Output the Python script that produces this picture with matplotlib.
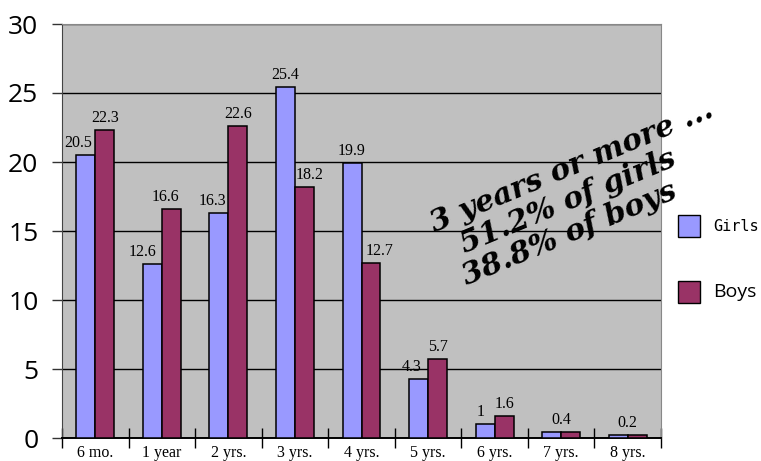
import numpy as np
import matplotlib.pyplot as plt
from matplotlib.patches import Patch

# Percent of children by duration, girls vs boys
categories = ["6 mo.", "1 year", "2 yrs.", "3 yrs.", "4 yrs.", "5 yrs.", "6 yrs.", "7 yrs.", "8 yrs."]
girls = [20.5, 12.6, 16.3, 25.4, 19.9, 4.3, 1.0, 0.4, 0.2]
boys = [22.3, 16.6, 22.6, 18.2, 12.7, 5.7, 1.6, 0.4, 0.2]
note_lines = ["3 years or more ...", "51.2% of girls", "38.8% of boys"]

GIRL_COLOR = "#9999FF"
BOY_COLOR = "#993366"
W, H = 761, 461

# sideways nudges of the value labels (category units) so they don't collide
girl_nudge = [-0.12, -0.15, -0.09, 0, 0, -0.10, -0.07, 0, 0]
boy_nudge = [0, -0.09, 0, 0.08, 0.13, 0, 0, 0, 0]


def fmt(v):
    return f"{v:g}"


fig = plt.figure(figsize=(W / 100, H / 100), dpi=100)
ax = fig.add_axes([62 / W, 1 - 438 / H, (661 - 62) / W, (438 - 24) / H])
ax.set_facecolor("#C0C0C0")

x = np.arange(len(categories))
bw = 0.285
ax.bar(x - bw / 2, girls, bw, color=GIRL_COLOR, edgecolor="black", linewidth=1.1, zorder=3)
ax.bar(x + bw / 2, boys, bw, color=BOY_COLOR, edgecolor="black", linewidth=1.1, zorder=3)

lab_kw = dict(ha="center", va="bottom", fontsize=11.5, family="Liberation Serif", zorder=4)
for i, (g, b) in enumerate(zip(girls, boys)):
    if g == b:
        ax.text(i, g + 0.3, fmt(g), **lab_kw)
    else:
        ax.text(i - bw / 2 + girl_nudge[i], g + 0.3, fmt(g), **lab_kw)
        ax.text(i + bw / 2 + boy_nudge[i], b + 0.3, fmt(b), **lab_kw)

ax.set_xlim(-0.5, len(categories) - 0.5)
ax.set_ylim(0, 30)
ax.set_yticks(range(0, 31, 5))
ax.yaxis.grid(True, color="black", linewidth=1.0, zorder=0)
ax.set_axisbelow(True)
ax.tick_params(axis="y", direction="out", length=7, width=1, color="#333333", pad=10,
               labelsize=19)
for t in ax.get_yticklabels():
    t.set_family("Open Sans")

ax.set_xticks(x)
ax.set_xticklabels(categories, family="Liberation Serif", fontsize=11.5)
ax.tick_params(axis="x", length=0, pad=5)
ax.set_xticks(np.arange(-0.5, len(categories)), minor=True)
ax.tick_params(axis="x", which="minor", direction="inout", length=14, width=1, color="black")

for side in ["top", "right"]:
    ax.spines[side].set_color("#888888")
ax.spines["left"].set_color("#444444")
ax.spines["bottom"].set_linewidth(1.4)

# Rotated annotation across the upper right
starts = [(435, 232), (465, 253), (467, 285)]
for (px, py), line in zip(starts, note_lines):
    fig.text(px / W, 1 - py / H, line, rotation=22.5, rotation_mode="anchor",
             ha="left", va="baseline", fontsize=21.5, family="DejaVu Serif",
             weight="bold", style="italic", zorder=10)

handles = [Patch(facecolor=GIRL_COLOR, edgecolor="black"),
           Patch(facecolor=BOY_COLOR, edgecolor="black")]
leg = fig.legend(handles, ["Girls", "Boys"], loc="upper left",
                 bbox_to_anchor=(664 / W, 1 - 201 / H), frameon=False,
                 fontsize=11, handlelength=1.45, handleheight=1.85,
                 handletextpad=0.85, labelspacing=2.9)
leg.get_texts()[0].set_family("DejaVu Sans Mono")
leg.get_texts()[1].set_family("Open Sans")
leg.get_texts()[1].set_fontsize(14)

fig.savefig("out.png", dpi=100)
